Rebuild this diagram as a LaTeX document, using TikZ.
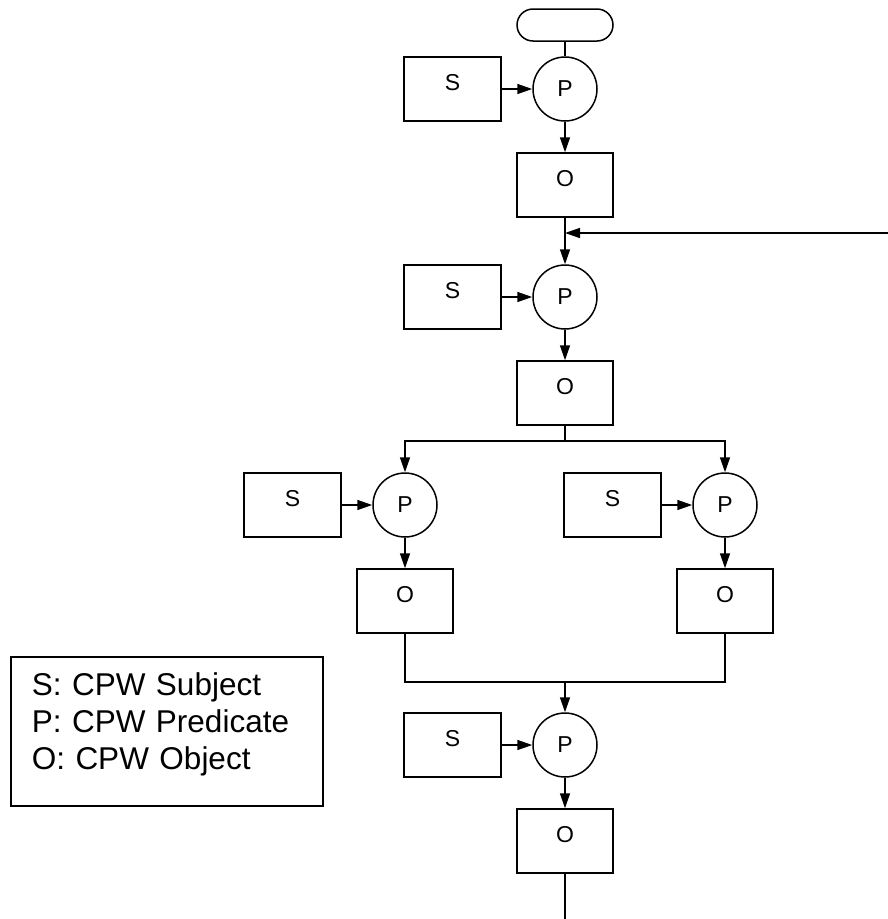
\documentclass[tikz,border=0pt]{standalone}
\usepackage{fontspec}
\setmainfont{Liberation Sans}
\usepackage{tikz}
\usetikzlibrary{arrows.meta}

\begin{document}
\begin{tikzpicture}[x=1pt, y=-1pt, line width=1.5pt,
  arr/.style={-{Triangle[length=15pt,width=10pt]}},
  term/.style={draw, rectangle, rounded corners=16pt, minimum width=96pt, minimum height=32pt, inner sep=0pt},
  subj/.style={draw, rectangle, minimum width=97pt, minimum height=64pt, inner sep=0pt,
    font=\fontsize{23}{27}\selectfont, text height=17pt, text depth=14pt},
  obj/.style={subj, minimum width=96pt},
  pred/.style={draw, circle, minimum size=64pt, inner sep=0pt, font=\fontsize{23}{27}\selectfont},
  legend/.style={draw, align=left, text width=270pt, inner xsep=21pt, inner ysep=0pt,
    text height=39pt, text depth=110pt, font=\fontsize{31.5}{37}\selectfont}]
\useasboundingbox (0,0) rectangle (888,919);

% Start
\node[term] (T) at (565,25) {};

% Step 1
\node[pred] (P1) at (565,89) {P};
\node[subj] (S1) at (452.5,89) {S};
\node[obj] (O1) at (565,185) {O};

% Step 2
\node[pred] (P2) at (565,297) {P};
\node[subj] (S2) at (452.5,297) {S};
\node[obj] (O2) at (565,393) {O};

% Step 3 (left)
\node[pred] (P3) at (405,505) {P};
\node[subj] (S3) at (292.5,505) {S};
\node[obj] (O3) at (405,601) {O};

% Step 3 (right)
\node[pred] (P4) at (725,505) {P};
\node[subj] (S4) at (612.5,505) {S};
\node[obj] (O4) at (725,601) {O};

% Step 4
\node[pred] (P5) at (565,745) {P};
\node[subj] (S5) at (452.5,745) {S};
\node[obj] (O5) at (565,841) {O};

% Legend
\node[legend, anchor=north west] (K) at (10,656) {S: CPW Subject\\P: CPW Predicate\\O: CPW Object};

% Junctions
\coordinate (L) at (888,233);
\coordinate (J) at (565,233);
\coordinate (B) at (565,441);
\coordinate (M) at (565,682);
\coordinate (E) at (565,919);

% Connections
\draw (T) -- (P1);
\draw[arr] (S1) -- (P1);
\draw[arr] (P1) -- (O1);
\draw[arr] (O1) -- (P2);
\draw[arr] (L) -- (J);
\draw[arr] (S2) -- (P2);
\draw[arr] (P2) -- (O2);
\draw (O2) -- (B);
\draw[arr] (B) -| (P3);
\draw[arr] (B) -| (P4);
\draw[arr] (S3) -- (P3);
\draw[arr] (P3) -- (O3);
\draw[arr] (S4) -- (P4);
\draw[arr] (P4) -- (O4);
\draw (O3) |- (M);
\draw (O4) |- (M);
\draw[arr] (M) -- (P5);
\draw[arr] (S5) -- (P5);
\draw[arr] (P5) -- (O5);
\draw (O5) -- (E);
\end{tikzpicture}
\end{document}
